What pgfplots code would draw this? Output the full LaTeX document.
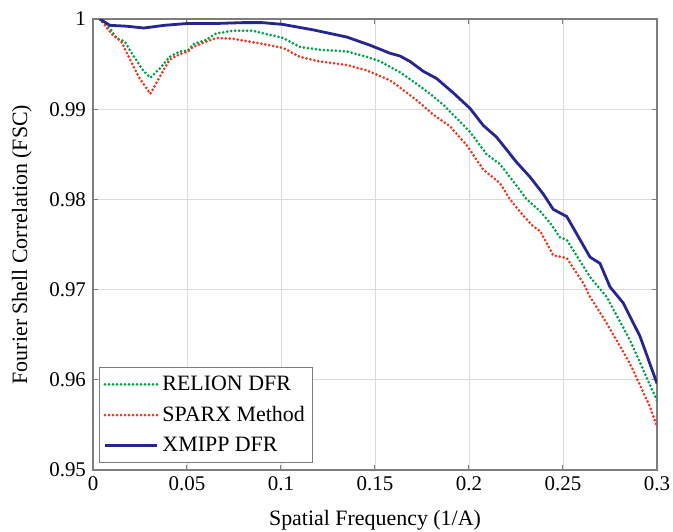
\documentclass[border=0pt]{standalone}
\usepackage{fontspec}
\setmainfont{Liberation Serif}
\usepackage{pgfplots}
\pgfplotsset{compat=1.18}
\definecolor{cgreen}{RGB}{0,160,75}
\definecolor{cred}{RGB}{235,55,30}
\definecolor{cblue}{RGB}{38,38,145}
\definecolor{axgray}{RGB}{125,125,125}
\begin{document}
\begin{tikzpicture}
\useasboundingbox (-46.5bp,-31bp) rectangle (290bp,235bp);
\begin{axis}[
 scale only axis, width=282bp, height=225.5bp,
 xmin=0, xmax=0.3, ymin=0.95, ymax=1,
 xtick={0,0.05,0.1,0.15,0.2,0.25,0.3},
 xticklabels={0,0.05,0.1,0.15,0.2,0.25,0.3},
 ytick={0.95,0.96,0.97,0.98,0.99,1},
 yticklabels={0.95,0.96,0.97,0.98,0.99,1},
 tick align=inside, xtick pos=both, ytick pos=both,
 major tick length=2.5bp,
 grid=major, major grid style={gray!28, line width=0.4pt},
 axis line style={axgray, line width=0.6pt},
 tick style={axgray, line width=0.5pt},
 ticklabel style={font=\fontsize{10.5}{12}\selectfont},
 label style={font=\fontsize{11}{13}\selectfont},
 xlabel={Spatial Frequency (1/A)},
 ylabel={Fourier Shell Correlation (FSC)},
 xlabel style={at={(axis description cs:0.5,-0.111)}, anchor=center},
 ylabel style={at={(axis description cs:-0.126,0.5)}, anchor=center},
 legend style={at={(axis description cs:0.0106,0.0155)}, anchor=south west,
   draw=axgray, line width=0.5pt, font=\fontsize{11}{13}\selectfont,
   row sep=2.5bp, inner xsep=2bp, inner ysep=2bp},
 legend cell align=left,
 legend image code/.code={\draw[#1] (0bp,0bp) -- (26bp,0bp);},
]
\addplot[cgreen, line width=1.5bp, line cap=round, dash pattern=on 0bp off 2bp] coordinates {
(0.0036,1.0) (0.009,0.9990) (0.0124,0.9979) (0.0168,0.9975) (0.0213,0.9960)
(0.0266,0.9943) (0.0305,0.9935) (0.0355,0.9945) (0.0408,0.9958) (0.0461,0.9964)
(0.0505,0.9965) (0.0532,0.9972) (0.0603,0.9977) (0.0656,0.9984) (0.0745,0.9987)
(0.085,0.9987) (0.101,0.9979) (0.1101,0.9969) (0.1207,0.9966) (0.135,0.9964)
(0.1456,0.9958) (0.1527,0.9953) (0.1633,0.9941) (0.1722,0.9928) (0.1793,0.9917)
(0.1863,0.9905) (0.1934,0.9890) (0.2005,0.9875) (0.2094,0.9850) (0.2165,0.9839)
(0.2254,0.9815) (0.2307,0.9800) (0.2378,0.9787) (0.2431,0.9774) (0.2484,0.9758)
(0.252,0.9755) (0.2644,0.9714) (0.2732,0.9692) (0.2856,0.9644) (0.3,0.9577)
};
\addlegendentry{RELION DFR}
\addplot[cred, line width=1.5bp, line cap=round, dash pattern=on 0bp off 2bp] coordinates {
(0.0036,1.0) (0.0106,0.9982) (0.015,0.9975) (0.0195,0.9956) (0.0248,0.9934)
(0.0305,0.9917) (0.0355,0.9936) (0.0408,0.9955) (0.0461,0.9961) (0.0505,0.9964)
(0.0532,0.9969) (0.0603,0.9975) (0.0656,0.9979) (0.0745,0.9978) (0.0887,0.9973)
(0.101,0.9968) (0.1101,0.9958) (0.1207,0.9953) (0.135,0.9949) (0.1456,0.9943)
(0.158,0.9932) (0.1633,0.9924) (0.1739,0.9907) (0.1810,0.9894) (0.1899,0.9881)
(0.1988,0.9860) (0.2076,0.9833) (0.2165,0.9818) (0.2218,0.9800) (0.2289,0.9782)
(0.2342,0.9770) (0.2378,0.9765) (0.2448,0.9738) (0.252,0.9735) (0.2608,0.9707)
(0.2644,0.9692) (0.2732,0.9663) (0.2856,0.9618) (0.2963,0.9570) (0.3,0.9548)
};
\addlegendentry{SPARX Method}
\addplot[cblue, line width=1.4bp] coordinates {
(0.0036,1.0) (0.009,0.9993) (0.018,0.9992) (0.027,0.9990) (0.038,0.9993)
(0.05,0.9995) (0.065,0.9995) (0.08,0.9996) (0.09,0.9996) (0.101,0.9994)
(0.117,0.9988) (0.135,0.9980) (0.1473,0.9971) (0.158,0.9962) (0.1633,0.9959)
(0.1686,0.9953) (0.1757,0.9942) (0.1828,0.9934) (0.1917,0.9918) (0.2005,0.9901)
(0.2076,0.9882) (0.2147,0.9869) (0.2254,0.9841) (0.2324,0.9825) (0.2395,0.9806)
(0.2448,0.9789) (0.252,0.9781) (0.2644,0.9736) (0.2697,0.9729) (0.275,0.9703)
(0.2821,0.9685) (0.291,0.9648) (0.3,0.9596)
};
\addlegendentry{XMIPP DFR}
\end{axis}
\end{tikzpicture}
\end{document}
